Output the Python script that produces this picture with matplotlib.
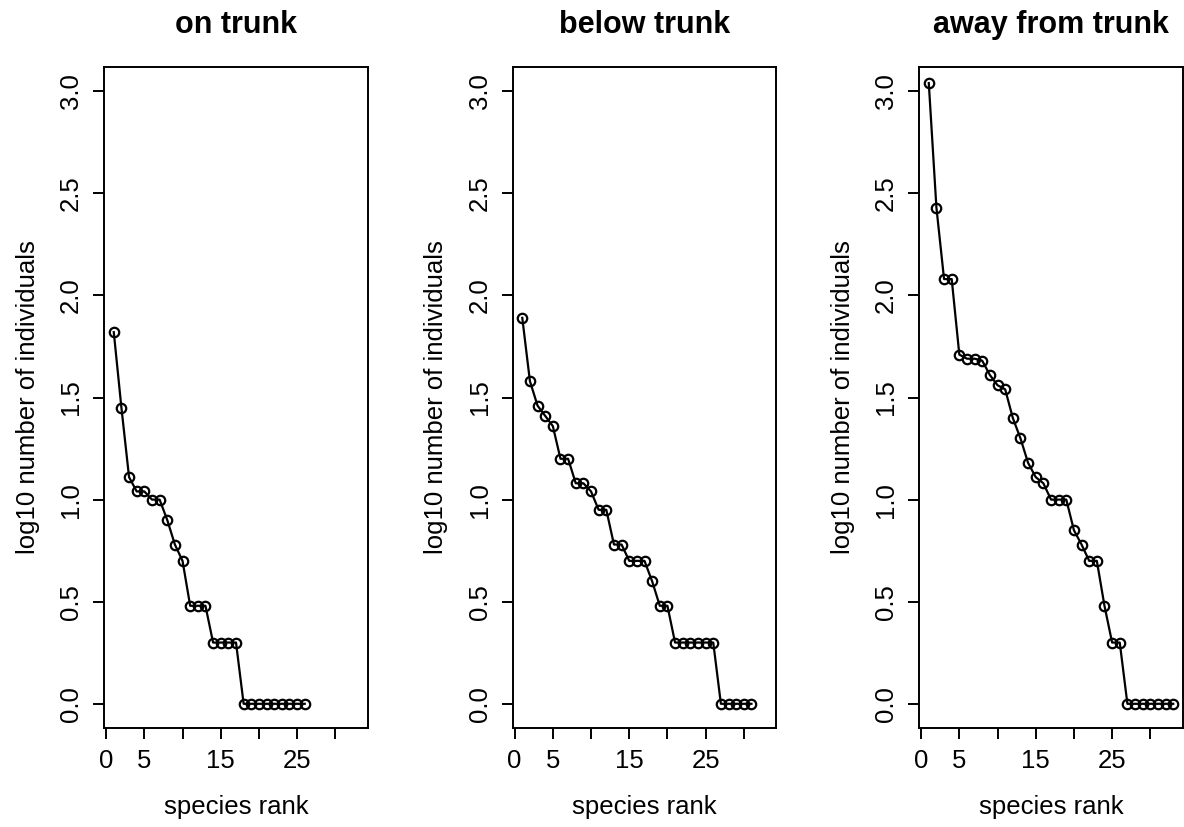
import matplotlib
matplotlib.use("Agg")
import matplotlib.pyplot as plt

# log10 abundance per species, ordered by rank
on_trunk = [1.82, 1.45, 1.11, 1.04, 1.04, 1.00, 1.00, 0.90, 0.78, 0.70,
            0.48, 0.48, 0.48, 0.30, 0.30, 0.30, 0.30,
            0, 0, 0, 0, 0, 0, 0, 0, 0]
below_trunk = [1.89, 1.58, 1.46, 1.41, 1.36, 1.20, 1.20, 1.08, 1.08, 1.04,
               0.95, 0.95, 0.78, 0.78, 0.70, 0.70, 0.70, 0.60, 0.48, 0.48,
               0.30, 0.30, 0.30, 0.30, 0.30, 0.30,
               0, 0, 0, 0, 0]
away_from_trunk = [3.04, 2.43, 2.08, 2.08, 1.71, 1.69, 1.69, 1.68, 1.61, 1.56,
                   1.54, 1.40, 1.30, 1.18, 1.11, 1.08, 1.00, 1.00, 1.00, 0.85,
                   0.78, 0.70, 0.70, 0.48, 0.30, 0.30,
                   0, 0, 0, 0, 0, 0, 0]

titles = ["on trunk", "below trunk", "away from trunk"]
series = [on_trunk, below_trunk, away_from_trunk]

x_ticks = [0, 5, 10, 15, 20, 25, 30]
x_ticklabels = ["0", "5", "", "15", "", "25", ""]
y_ticks = [0.0, 0.5, 1.0, 1.5, 2.0, 2.5, 3.0]
y_ticklabels = ["0.0", "0.5", "1.0", "1.5", "2.0", "2.5", "3.0"]

plt.rcParams["font.family"] = ["Liberation Sans", "DejaVu Sans"]

fig = plt.figure(figsize=(11.84, 8.27), dpi=100)
W, H = 1184, 827
lefts = [104, 512.5, 919]
box_w, box_top, box_bot = 264, 66.7, 728.3

for left, vals, title in zip(lefts, series, titles):
    ax = fig.add_axes([left / W, 1 - box_bot / H, box_w / W, (box_bot - box_top) / H])
    ranks = list(range(1, len(vals) + 1))
    ax.plot(ranks, vals, color="black", lw=1.6, marker="o", ms=6.8,
            mfc="none", mec="black", mew=1.6)
    # R style: 4% padding around xlim c(1, 33), ylim c(0, 3)
    ax.set_xlim(1 - 0.04 * 32, 33 + 0.04 * 32)
    ax.set_ylim(-0.12, 3.12)
    ax.set_xticks(x_ticks)
    ax.set_xticklabels(x_ticklabels)
    ax.set_yticks(y_ticks)
    ax.set_yticklabels(y_ticklabels, rotation=90, va="center")
    ax.tick_params(direction="out", length=8, width=1.4, labelsize=18.5, pad=7)
    for sp in ax.spines.values():
        sp.set_linewidth(1.4)
    ax.set_title(title, fontsize=22, fontweight="bold", pad=24)
    ax.set_xlabel("species rank", fontsize=18.5, labelpad=16)
    ax.set_ylabel("log10 number of individuals", fontsize=18.5, labelpad=14)

fig.savefig("out.png", dpi=100, facecolor="white")
